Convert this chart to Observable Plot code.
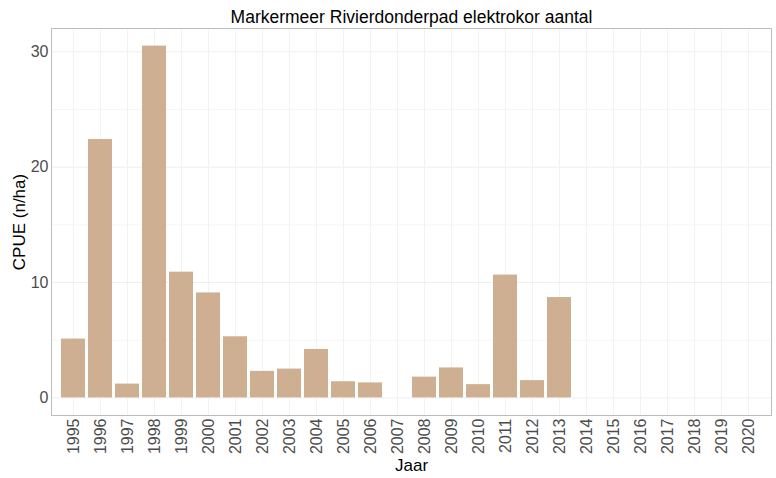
<!DOCTYPE html>
<html>
<head>
<meta charset="utf-8">
<script src="https://cdn.jsdelivr.net/npm/d3@7"></script>
<script src="https://cdn.jsdelivr.net/npm/@observablehq/plot@0.6"></script>
<style>
  html, body { margin: 0; padding: 0; background: #fff; }
</style>
</head>
<body>
<div id="chart"></div>
<script>
const title = "Markermeer Rivierdonderpad elektrokor aantal";
const xLabel = "Jaar";
const yLabel = "CPUE (n/ha)";
const years = ["1995","1996","1997","1998","1999","2000","2001","2002","2003","2004","2005","2006","2007","2008","2009","2010","2011","2012","2013","2014","2015","2016","2017","2018","2019","2020"];
const cpue = [5.1, 22.4, 1.2, 30.5, 10.9, 9.1, 5.3, 2.3, 2.5, 4.2, 1.4, 1.3, null, 1.8, 2.6, 1.15, 10.65, 1.5, 8.7, null, null, null, null, null, null, null];
const yTicks = [0, 10, 20, 30];
const yMinor = [5, 15, 25];

const data = years.map((y, i) => ({year: y, value: cpue[i]})).filter(d => d.value != null);
const ymax = d3.max(data, d => d.value);
const pad = ymax * 0.05;

const fontFamily = "'Liberation Sans', Arial, sans-serif";

const chart = Plot.plot({
  width: 776,
  height: 478,
  marginLeft: 51,
  marginRight: 5,
  marginTop: 28,
  marginBottom: 63,
  style: {fontFamily, background: "#fff"},
  x: {domain: years, paddingInner: 0.1, paddingOuter: 0.15, align: 0.5},
  y: {domain: [-pad, ymax + pad]},
  marks: [
    Plot.gridY(yMinor, {stroke: "#f6f6f6", strokeOpacity: 1}),
    Plot.gridY(yTicks, {stroke: "#efefef", strokeOpacity: 1}),
    Plot.gridX(years, {stroke: "#f2f2f2", strokeOpacity: 1}),
    Plot.barY(data, {x: "year", y1: 0, y2: "value", fill: "#cfaf91"}),
    Plot.frame({stroke: "#bdbdbd"}),
    Plot.axisY(yTicks, {tickSize: 0, tickPadding: 3, fontSize: 16, fill: "#4d4d4d", label: null}),
    Plot.axisX({tickRotate: -90, tickSize: 0, tickPadding: 3, fontSize: 16, fill: "#4d4d4d", label: null}),
    Plot.text([title], {frameAnchor: "top", lineAnchor: "middle", textAnchor: "middle", dy: -11, text: d => d, fontSize: 17.5, fill: "#000"}),
    Plot.text([yLabel], {frameAnchor: "left", lineAnchor: "middle", textAnchor: "middle", dx: -32, rotate: -90, text: d => d, fontSize: 17, fill: "#000"}),
    Plot.text([xLabel], {frameAnchor: "bottom", lineAnchor: "middle", textAnchor: "middle", dy: 50, text: d => d, fontSize: 17, fill: "#000"})
  ]
});
document.getElementById("chart").appendChild(chart);
</script>
</body>
</html>
